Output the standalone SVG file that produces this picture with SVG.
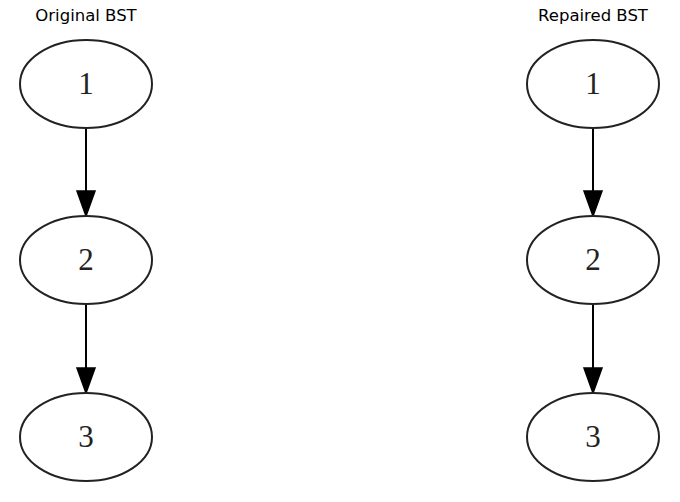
<svg xmlns="http://www.w3.org/2000/svg" width="680" height="502" viewBox="0 0 680 502">
<defs>
<style>
.node ellipse{fill:#fff;stroke:#222;stroke-width:2}
.node text{font-family:"Liberation Serif","Times New Roman",serif;font-size:31px;text-anchor:middle;fill:#222}
.title{font-family:"DejaVu Sans",sans-serif;font-size:16.5px;text-anchor:middle;fill:#000}
.edge{stroke:#000;stroke-width:2;fill:none}
.head{fill:#000;stroke:#000;stroke-width:1.5}
</style>
</defs>
<rect width="680" height="502" fill="#fff"/>
<text class="title" x="86" y="21">Original BST</text>
<text class="title" x="593" y="21">Repaired BST</text>
<g id="connectors">
<line class="edge" x1="86" y1="128" x2="86" y2="192"/>
<polygon class="head" points="77,191 95,191 86,216"/>
<line class="edge" x1="86" y1="304" x2="86" y2="369"/>
<polygon class="head" points="77,368 95,368 86,393"/>
<line class="edge" x1="593" y1="128" x2="593" y2="192"/>
<polygon class="head" points="584,191 602,191 593,216"/>
<line class="edge" x1="593" y1="304" x2="593" y2="369"/>
<polygon class="head" points="584,368 602,368 593,393"/>
</g>
<g id="orig1" class="node"><ellipse cx="86" cy="84" rx="66" ry="44"/><text x="86" y="94">1</text></g>
<g id="orig2" class="node"><ellipse cx="86" cy="260" rx="66" ry="44"/><text x="86" y="270">2</text></g>
<g id="orig3" class="node"><ellipse cx="86" cy="437" rx="66" ry="44"/><text x="86" y="447">3</text></g>
<g id="rep1" class="node"><ellipse cx="593" cy="84" rx="66" ry="44"/><text x="593" y="94">1</text></g>
<g id="rep2" class="node"><ellipse cx="593" cy="260" rx="66" ry="44"/><text x="593" y="270">2</text></g>
<g id="rep3" class="node"><ellipse cx="593" cy="437" rx="66" ry="44"/><text x="593" y="447">3</text></g>
</svg>
